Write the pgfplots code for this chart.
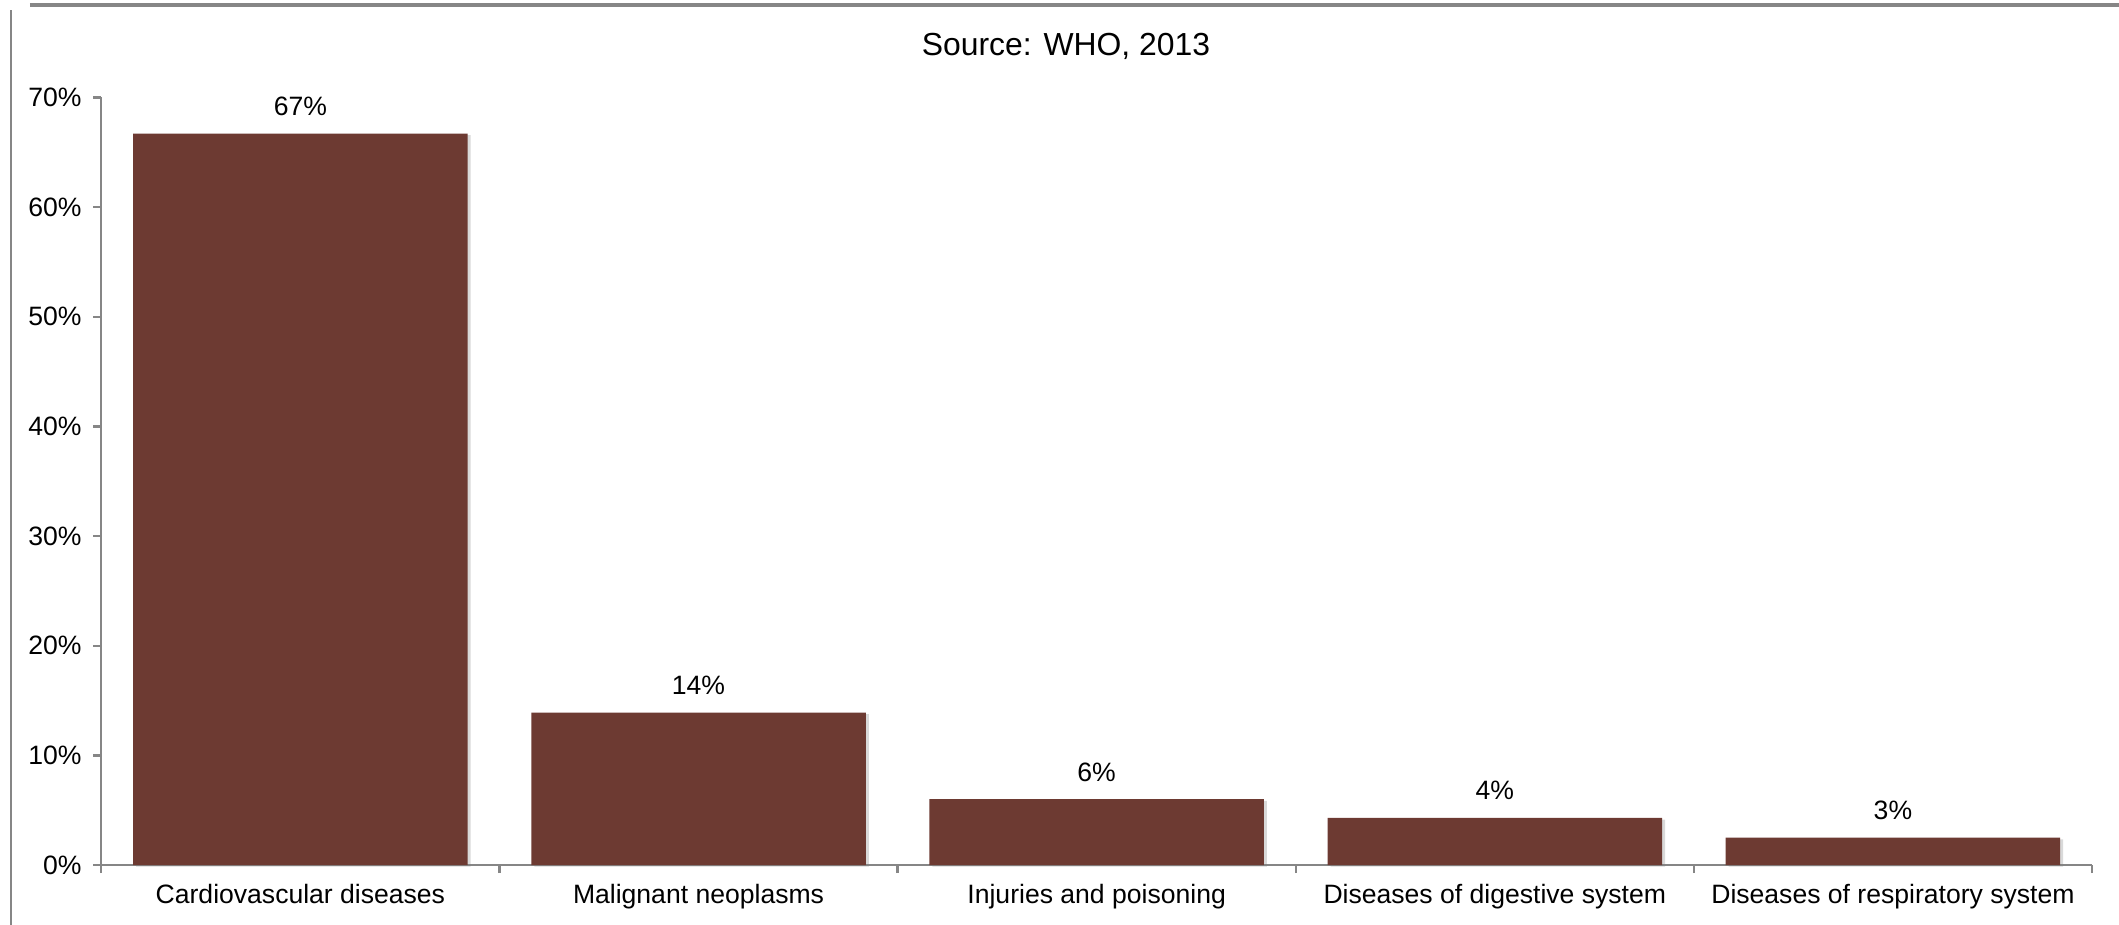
\documentclass[border=0pt]{standalone}
\usepackage{fontspec}
\setmainfont{Liberation Sans}
\usepackage{pgfplots}
\pgfplotsset{compat=1.18}
\usetikzlibrary{shadows}

\definecolor{barbrown}{HTML}{6D3A32}
\definecolor{axisgray}{HTML}{868686}

% share of deaths by cause, value and printed label
\pgfplotstableread{
x  val   lab
0  66.7  67
1  13.9  14
2  6.0   6
3  4.3   4
4  2.5   3
}\causes

\begin{document}
\begin{tikzpicture}
\useasboundingbox (-30.4bp,-18.0bp) rectangle (605.3bp,259.5bp);
\begin{axis}[
    at={(0,0)}, anchor=south west,
    scale only axis,
    width=597.2bp, height=230.3bp,
    xmin=-0.5, xmax=4.5,
    ymin=0, ymax=70,
    ybar, bar width=0.84,
    axis x line=bottom, axis y line=left,
    axis line style={-, axisgray, line width=0.7bp},
    tick style={axisgray, line width=0.7bp},
    tick align=outside,
    major tick length=2.4bp,
    xtick={-0.5,0.5,1.5,2.5,3.5,4.5},
    x tick label as interval,
    xticklabels={Cardiovascular diseases, Malignant neoplasms, Injuries and poisoning,
                 Diseases of digestive system, Diseases of respiratory system},
    ytick={0,10,...,70},
    yticklabel={\pgfmathprintnumber{\tick}\%},
    /pgf/number format/assume math mode=true,
    ticklabel style={font=\fontsize{8}{9.6}\selectfont, text=black},
    nodes near coords={\pgfplotspointmeta\%},
    point meta=explicit symbolic,
    every node near coord/.append style={font=\fontsize{8}{9.6}\selectfont, text=black, yshift=1.8bp},
    clip=false,
]
\addplot[fill=barbrown, draw=none,
         drop shadow={shadow xshift=0.9bp, shadow yshift=-0.5bp, opacity=0.3}]
    table[x=x, y=val, meta=lab] {\causes};
\end{axis}
\node[font=\fontsize{9.6}{11.5}\selectfont, anchor=base] at (289.4bp,242.7bp) {Source: WHO, 2013};
\draw[axisgray, line width=0.6bp] (-27.1bp,-18.0bp) -- (-27.1bp,256.5bp);
\draw[axisgray, line width=1.2bp] (-21.4bp,258.0bp) -- (605.3bp,258.0bp);
\end{tikzpicture}
\end{document}
